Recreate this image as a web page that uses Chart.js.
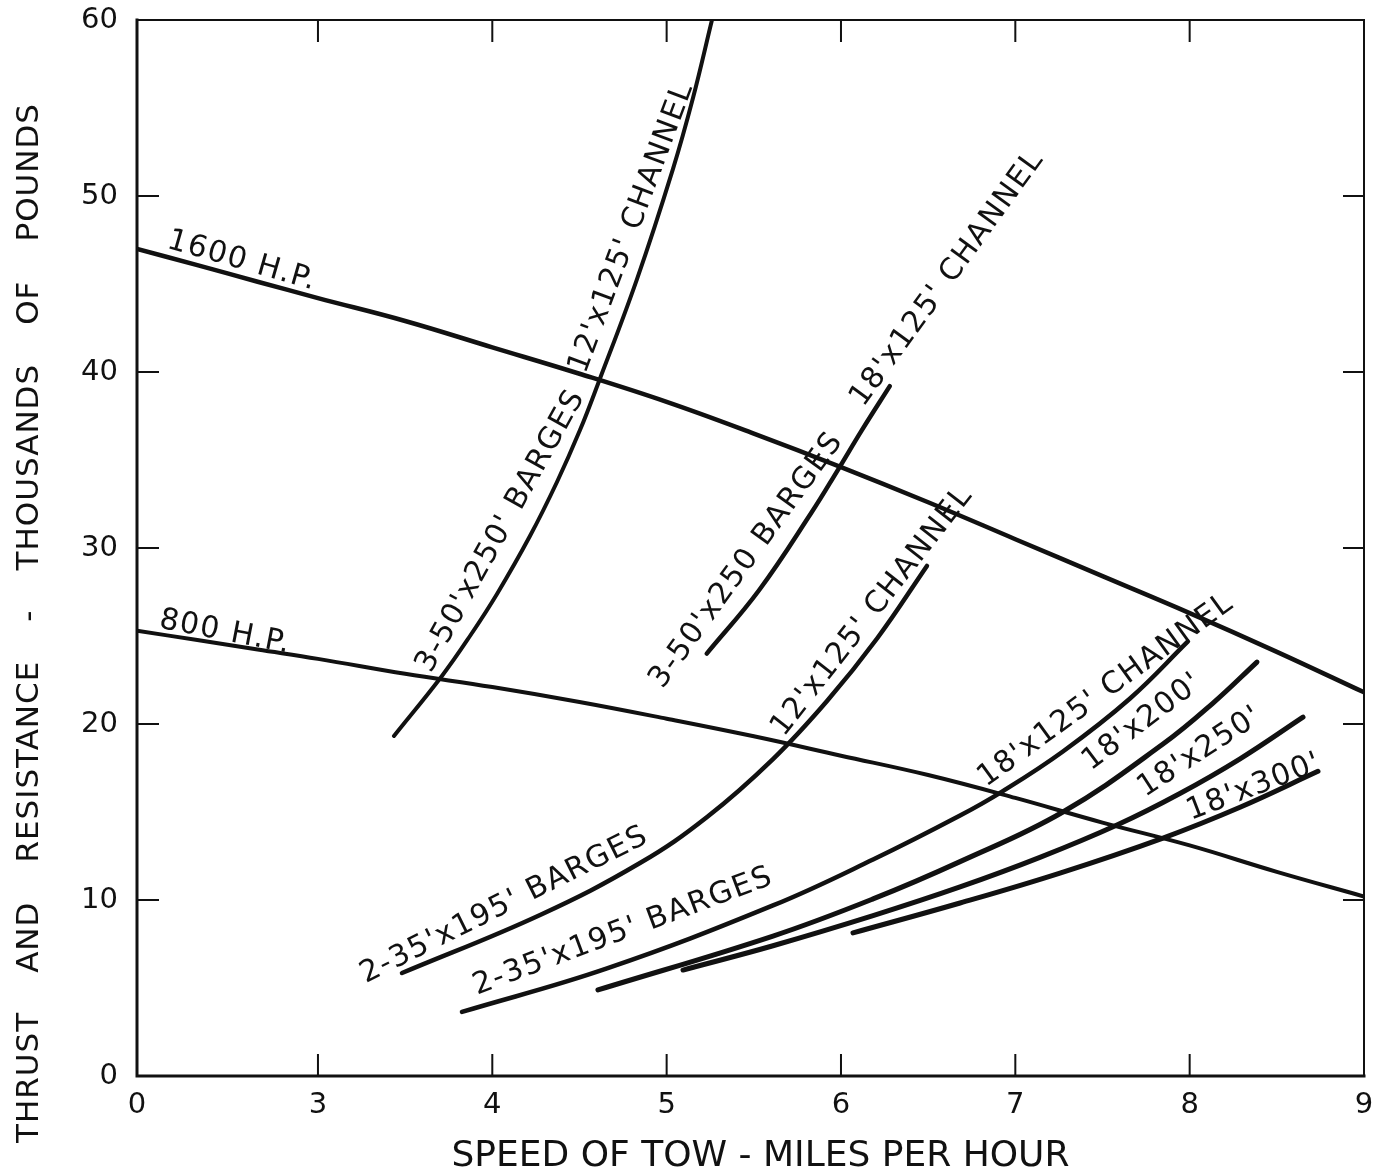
<!DOCTYPE html>
<html>
<head>
<meta charset="utf-8">
<script src="https://cdn.jsdelivr.net/npm/chart.js@4/dist/chart.umd.min.js"></script>
<style>
  html, body { margin: 0; padding: 0; background: #fff; }
  canvas { display: block; }
</style>
</head>
<body>
<canvas id="towChart" width="1387" height="1171"></canvas>
<script>
// Tick values on each axis
const speedTicks = [0, 3, 4, 5, 6, 7, 8, 9];
const thrustTicks = [0, 10, 20, 30, 40, 50, 60];

// Available thrust of the towboat (thousands of lb) vs speed (mph)
const hpSpeed = [0, 1, 2, 3, 3.5, 4, 4.5, 5, 5.5, 6, 6.5, 7, 7.5, 8, 8.5, 9];
const hp1600Thrust = [47.0, 46.07, 45.13, 44.2, 42.9, 41.4, 39.9, 38.3, 36.5, 34.6, 32.6, 30.5, 28.4, 26.3, 24.1, 21.8];
const hp800Thrust = [25.3, 24.77, 24.23, 23.7, 22.85, 22.1, 21.25, 20.3, 19.3, 18.2, 17.1, 15.8, 14.4, 13.1, 11.6, 10.2];

// Tow resistance: 3 - 50' x 250' barges, 12' x 125' channel
const b3Ch12Speed = [3.436, 3.711, 3.872, 4.027, 4.216, 4.371, 4.503, 4.606, 4.830, 5.036, 5.151, 5.260];
const b3Ch12Resist = [19.32, 22.73, 25.0, 27.39, 30.68, 33.75, 36.7, 39.32, 45.28, 51.53, 55.57, 60.0];

// 3 - 50' x 250 barges, 18' x 125' channel
const b3Ch18Speed = [5.23, 5.53, 5.83, 5.98, 6.12, 6.28];
const b3Ch18Resist = [24.0, 27.6, 32.0, 34.4, 36.7, 39.2];

// 2 - 35' x 195' barges, 12' x 125' channel
const b2Ch12Speed = [3.482, 4.274, 4.847, 5.232, 5.610, 5.920, 6.207, 6.493];
const b2Ch12Resist = [5.85, 9.15, 12.1, 14.72, 18.01, 21.31, 24.86, 28.98];

// 2 - 35' x 195' barges, 18' x 125' channel
const b2Ch18x125Speed = [3.826, 4.658, 5.610, 6.184, 6.683, 6.924, 7.273, 7.658, 7.990];
const b2Ch18x125Resist = [3.64, 6.11, 9.69, 12.3, 14.8, 16.16, 18.44, 21.45, 24.69];

// 2 - 35' x 195' barges, 18' x 200' channel
const b2Ch18x200Speed = [4.606, 5.610, 6.184, 6.683, 7.273, 7.847, 8.134, 8.386];
const b2Ch18x200Resist = [4.89, 7.95, 10.06, 12.18, 15.0, 18.86, 21.19, 23.52];

// 2 - 35' x 195' barges, 18' x 250' channel
const b2Ch18x250Speed = [5.094, 5.610, 6.184, 6.683, 7.141, 7.583, 7.944, 8.289, 8.650];
const b2Ch18x250Resist = [6.02, 7.40, 9.11, 10.74, 12.42, 14.26, 16.05, 18.02, 20.39];

// 2 - 35' x 195' barges, 18' x 300' channel
const b2Ch18x300Speed = [6.069, 6.683, 7.256, 7.847, 8.289, 8.736];
const b2Ch18x300Resist = [8.13, 9.83, 11.53, 13.52, 15.27, 17.31];

// Curve captions: text, anchor (speed, thrust) and rotation in degrees
const curveCaptions = [
  { text: "1600 H.P.", speed: 1.74, thrust: 46.3, angle: 16 },
  { text: "800 H.P.", speed: 1.46, thrust: 25.2, angle: 11 },
  { text: "3-50'x250' BARGES", speed: 4.05, thrust: 30.97, angle: -61 },
  { text: "12'x125' CHANNEL", speed: 4.80, thrust: 48.2, angle: -69.5 },
  { text: "18'x125' CHANNEL", speed: 6.61, thrust: 45.3, angle: -54 },
  { text: "3-50'x250 BARGES", speed: 5.46, thrust: 29.3, angle: -54 },
  { text: "12'x125' CHANNEL", speed: 6.18, thrust: 26.4, angle: -52 },
  { text: "2-35'x195' BARGES", speed: 4.07, thrust: 9.7, angle: -26.5 },
  { text: "2-35'x195' BARGES", speed: 4.75, thrust: 8.2, angle: -20.5 },
  { text: "18'x125' CHANNEL", speed: 7.52, thrust: 21.9, angle: -36 },
  { text: "18'x200'", speed: 7.73, thrust: 20.1, angle: -37 },
  { text: "18'x250'", speed: 8.06, thrust: 18.4, angle: -33 },
  { text: "18'x300'", speed: 8.37, thrust: 16.4, angle: -21 }
];

const xTitle = "SPEED OF TOW - MILES PER HOUR";
const yTitleWords = ["THRUST", "AND", "RESISTANCE", "-", "THOUSANDS", "OF", "POUNDS"];

const FONT = "'DejaVu Sans', 'Liberation Sans', sans-serif";
const INK = "#111";

// Speed axis with a compressed 0-3 mph segment, drawn one unit wide.
const BREAK_AT = 3;
const BREAK_WIDTH = 1.038;
class BrokenSpeedScale extends Chart.LinearScale {
  static id = 'brokenSpeed';
  static defaults = Chart.LinearScale.defaults;
  toAxisUnits(v) {
    return v < BREAK_AT ? (v / BREAK_AT) * BREAK_WIDTH : BREAK_WIDTH + (v - BREAK_AT);
  }
  fromAxisUnits(u) {
    return u < BREAK_WIDTH ? (u / BREAK_WIDTH) * BREAK_AT : BREAK_AT + (u - BREAK_WIDTH);
  }
  getPixelForValue(value) {
    if (value === null || value === undefined || isNaN(value)) return NaN;
    const lo = this.toAxisUnits(this.min);
    const hi = this.toAxisUnits(this.max);
    return this.getPixelForDecimal((this.toAxisUnits(value) - lo) / (hi - lo));
  }
  getValueForPixel(pixel) {
    const lo = this.toAxisUnits(this.min);
    const hi = this.toAxisUnits(this.max);
    return this.fromAxisUnits(lo + this.getDecimalForPixel(pixel) * (hi - lo));
  }
}
Chart.register(BrokenSpeedScale);

function pairs(xs, ys) {
  return xs.map((x, i) => ({ x: x, y: ys[i] }));
}

function curve(label, xs, ys, width) {
  return {
    label: label,
    data: pairs(xs, ys),
    borderColor: INK,
    borderWidth: width,
    borderCapStyle: 'round',
    borderJoinStyle: 'round',
    pointRadius: 0,
    fill: false,
    tension: 0.4
  };
}

// Frame with inward tick marks on all four sides
const framePlugin = {
  id: 'frame',
  afterDatasetsDraw(chart) {
    const { ctx, chartArea: a, scales } = chart;
    const xs = scales.x, ys = scales.y;
    ctx.save();
    ctx.strokeStyle = INK;
    ctx.lineCap = 'square';
    // left and bottom axes (heavier)
    ctx.lineWidth = 3;
    ctx.beginPath();
    ctx.moveTo(a.left, a.top);
    ctx.lineTo(a.left, a.bottom);
    ctx.lineTo(a.right, a.bottom);
    ctx.stroke();
    // top and right edges
    ctx.lineWidth = 2;
    ctx.beginPath();
    ctx.moveTo(a.left, a.top);
    ctx.lineTo(a.right, a.top);
    ctx.lineTo(a.right, a.bottom);
    ctx.stroke();
    // ticks
    ctx.lineWidth = 2;
    ctx.beginPath();
    speedTicks.forEach(v => {
      if (v === 0 || v === 9) return;
      const px = xs.getPixelForValue(v);
      ctx.moveTo(px, a.bottom);
      ctx.lineTo(px, a.bottom - 21);
      ctx.moveTo(px, a.top);
      ctx.lineTo(px, a.top + 21);
    });
    thrustTicks.forEach(v => {
      if (v === 0 || v === 60) return;
      const py = ys.getPixelForValue(v);
      ctx.moveTo(a.left, py);
      ctx.lineTo(a.left + 21, py);
      ctx.moveTo(a.right, py);
      ctx.lineTo(a.right - 20, py);
    });
    ctx.stroke();
    ctx.restore();
  }
};

// Captions written along each curve
const captionPlugin = {
  id: 'captions',
  afterDatasetsDraw(chart) {
    const { ctx, scales } = chart;
    ctx.save();
    ctx.fillStyle = INK;
    ctx.font = "30px " + FONT;
    ctx.textAlign = 'center';
    ctx.textBaseline = 'middle';
    if ('letterSpacing' in ctx) ctx.letterSpacing = '1.5px';
    curveCaptions.forEach(c => {
      const px = scales.x.getPixelForValue(c.speed);
      const py = scales.y.getPixelForValue(c.thrust);
      ctx.save();
      ctx.translate(px, py);
      ctx.rotate(c.angle * Math.PI / 180);
      ctx.fillText(c.text, 0, 0);
      ctx.restore();
    });
    ctx.restore();
  }
};

// Axis titles: the vertical one spreads its words along the whole axis
const titlePlugin = {
  id: 'axisTitles',
  afterDraw(chart) {
    const { ctx, chartArea: a } = chart;
    ctx.save();
    ctx.fillStyle = INK;
    // horizontal title
    ctx.font = "36px " + FONT;
    ctx.textAlign = 'center';
    ctx.textBaseline = 'alphabetic';
    ctx.fillText(xTitle, (a.left + a.right) / 2 + 10, 1166, 632);
    // vertical title
    ctx.font = "31px " + FONT;
    if ('letterSpacing' in ctx) ctx.letterSpacing = '1px';
    ctx.textAlign = 'left';
    const start = 1143, end = 103;
    const span = start - end;
    const widths = yTitleWords.map(w => ctx.measureText(w).width);
    const total = widths.reduce((s, w) => s + w, 0);
    const gap = (span - total) / (yTitleWords.length - 1);
    ctx.translate(38, start);
    ctx.rotate(-Math.PI / 2);
    let pos = 0;
    yTitleWords.forEach((w, i) => {
      ctx.fillText(w, pos, 0);
      pos += widths[i] + gap;
    });
    ctx.restore();
  }
};

new Chart(document.getElementById('towChart'), {
  type: 'line',
  data: {
    datasets: [
      curve('1600 H.P.', hpSpeed, hp1600Thrust, 4.5),
      curve('800 H.P.', hpSpeed, hp800Thrust, 4),
      curve("3-50'x250' barges, 12'x125' channel", b3Ch12Speed, b3Ch12Resist, 4),
      curve("3-50'x250 barges, 18'x125' channel", b3Ch18Speed, b3Ch18Resist, 4.5),
      curve("2-35'x195' barges, 12'x125' channel", b2Ch12Speed, b2Ch12Resist, 4.5),
      curve("2-35'x195' barges, 18'x125' channel", b2Ch18x125Speed, b2Ch18x125Resist, 4.5),
      curve("18'x200'", b2Ch18x200Speed, b2Ch18x200Resist, 5),
      curve("18'x250'", b2Ch18x250Speed, b2Ch18x250Resist, 5),
      curve("18'x300'", b2Ch18x300Speed, b2Ch18x300Resist, 5)
    ]
  },
  options: {
    responsive: false,
    animation: false,
    events: [],
    layout: { padding: { top: 20, right: 23, left: 0, bottom: 0 } },
    plugins: {
      legend: { display: false },
      tooltip: { enabled: false },
      title: { display: false }
    },
    scales: {
      x: {
        type: 'brokenSpeed',
        min: 0,
        max: 9,
        afterBuildTicks(scale) {
          scale.ticks = speedTicks.map(v => ({ value: v }));
        },
        afterFit(scale) {
          scale.height = 95;
          scale.paddingLeft = 0;
          scale.paddingRight = 0;
        },
        grid: { display: false, drawTicks: false },
        border: { display: false },
        ticks: {
          autoSkip: false,
          maxRotation: 0,
          padding: 12,
          color: INK,
          font: { family: FONT, size: 29 },
          callback: v => String(v)
        }
      },
      y: {
        type: 'linear',
        min: 0,
        max: 60,
        afterBuildTicks(scale) {
          scale.ticks = thrustTicks.map(v => ({ value: v }));
        },
        afterFit(scale) {
          scale.width = 137;
          scale.paddingTop = 0;
          scale.paddingBottom = 0;
        },
        grid: { display: false, drawTicks: false },
        border: { display: false },
        ticks: {
          padding: 19,
          color: INK,
          font: { family: FONT, size: 29 },
          callback: v => String(v)
        }
      }
    }
  },
  plugins: [framePlugin, captionPlugin, titlePlugin]
});
</script>
</body>
</html>
